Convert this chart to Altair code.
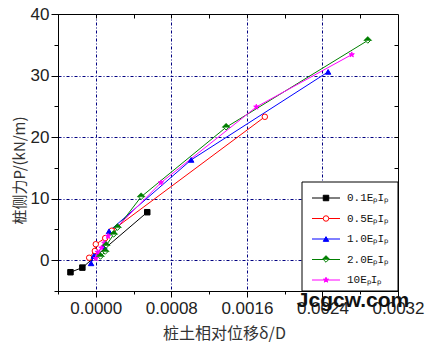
import altair as alt
import pandas as pd

# ---------------- data ----------------
series = ["0.1EₚIₚ", "0.5EₚIₚ", "1.0EₚIₚ", "2.0EₚIₚ", "10EₚIₚ"]

x_01 = [-0.000268, -0.000142, 0.000545]
y_01 = [-1.95, -1.2, 7.8]

x_05 = [-0.00007, -0.00001, 0.0, 0.0001, 0.00017, 0.00179]
y_05 = [0.4, 1.5, 2.6, 3.6, 4.8, 23.3]

x_10 = [-0.00005, -0.00002, 0.00009, 0.00014, 0.00101, 0.00246]
y_10 = [-0.5, 0.7, 2.3, 4.7, 16.3, 30.6]

x_20 = [0.00005, 0.0001, 0.00011, 0.00019, 0.00023, 0.00048, 0.00138, 0.00288]
y_20 = [0.6, 1.4, 2.4, 4.2, 5.3, 10.3, 21.6, 35.7]

x_100 = [0.0, 0.00002, 0.00006, 0.00009, 0.00013, 0.00069, 0.0017, 0.00271]
y_100 = [0.3, 1.3, 2.0, 2.8, 3.9, 12.6, 24.9, 33.4]

x_ticks = [0.0, 0.0008, 0.0016, 0.0024, 0.0032]
x_minor = [-0.0004, 0.0004, 0.0012, 0.0020, 0.0028]
x_grid = [0.0, 0.0008, 0.0016, 0.0024]
x_top = [-0.0004, 0.0, 0.0004, 0.0008, 0.0012, 0.0016, 0.0020, 0.0024, 0.0028]
y_ticks = [0, 10, 20, 30, 40]
y_minor = [-5, 5, 15, 25, 35]
y_grid = [0, 10, 20, 30]
y_right = [-5, 0, 5, 10, 15, 20, 25, 30, 35]

colors = ["#000000", "#FF0000", "#0000FF", "#007F00", "#FF00FF"]
fills = ["#000000", "#FFFFFF", "#0000FF", "#FFFFFF", "#FF00FF"]
STAR = ("M0,-1L0.2245,-0.309L0.951,-0.309L0.363,0.118L0.588,0.809L0,0.382"
        "L-0.588,0.809L-0.363,0.118L-0.951,-0.309L-0.2245,-0.309Z")
shapes = ["square", "circle", "triangle-up", "diamond", STAR]
sizes = [30, 30, 56, 64, 90]
HALF_TOP = "M-1,0L0,-1L1,0Z"

rows = []
for s, xs, ys in zip(series, [x_01, x_05, x_10, x_20, x_100],
                     [y_01, y_05, y_10, y_20, y_100]):
    for i, (a, b) in enumerate(zip(xs, ys)):
        rows.append({"series": s, "x": a, "y": b, "idx": i})
df = pd.DataFrame(rows)
leg_df = pd.DataFrame({"series": series, "row": list(range(len(series)))})
one = pd.DataFrame({"a": [0]})

W, H = 340, 277
LF = "Liberation Sans"
CJK = "Noto Sans CJK SC"

xsc = alt.Scale(domain=[-0.0004, 0.0032], nice=False, zero=False)
ysc = alt.Scale(domain=[-5, 40], nice=False, zero=False)
col_s = alt.Scale(domain=series, range=colors)
fill_s = alt.Scale(domain=series, range=fills)
shape_s = alt.Scale(domain=series, range=shapes)
size_s = alt.Scale(domain=series, range=sizes)

base = alt.Chart(df)

x_main = alt.X("x:Q", scale=xsc, axis=alt.Axis(
    orient="bottom", values=x_ticks, format=".4f", title="桩土相对位移δ/D",
    grid=False, tickSize=6, tickColor="black", domainColor="black",
    labelFont=LF, labelFontSize=17, labelColor="#222", labelPadding=3,
    labelFlush=False,
    titleFont=CJK, titleFontSize=16, titleFontWeight="normal", titleColor="#333",
    titleX=166, titleY=42, titleBaseline="middle", titleAlign="center"))
y_main = alt.Y("y:Q", scale=ysc, axis=alt.Axis(
    orient="left", values=y_ticks, title="桩侧力P/(kN/m)", grid=False,
    tickSize=7, tickColor="black", domainColor="black",
    labelFont=LF, labelFontSize=17, labelColor="#222", labelPadding=2,
    labelFlush=False,
    titleFont=CJK, titleFontSize=15, titleFontWeight="normal", titleColor="#333",
    titleX=-39, titleY=156, titleAngle=270, titleBaseline="middle",
    titleAlign="center"))

lines = base.mark_line(strokeWidth=1).encode(
    x=x_main, y=y_main, order=alt.Order("idx:Q"),
    stroke=alt.Stroke("series:N", scale=col_s, legend=None))

pt_enc = dict(
    shape=alt.Shape("series:N", scale=shape_s, legend=None),
    stroke=alt.Stroke("series:N", scale=col_s, legend=None),
    fill=alt.Fill("series:N", scale=fill_s, legend=None),
    size=alt.Size("series:N", scale=size_s, legend=None))

points = base.mark_point(opacity=1, strokeWidth=1).encode(
    x=alt.X("x:Q", scale=xsc, axis=None),
    y=alt.Y("y:Q", scale=ysc, axis=None), **pt_enc)

half = base.transform_filter(alt.datum.series == series[3]).mark_point(
    shape=HALF_TOP, filled=True, fill=colors[3], stroke=colors[3],
    strokeWidth=0.5, size=64, opacity=1).encode(
    x=alt.X("x:Q", scale=xsc, axis=None),
    y=alt.Y("y:Q", scale=ysc, axis=None))

gdash = [3, 2, 1, 2]
grid_layer = base.mark_point(opacity=0).encode(
    x=alt.X("x:Q", scale=xsc, axis=alt.Axis(
        orient="bottom", values=x_grid, grid=True, gridColor="#000080",
        gridDash=gdash, gridWidth=1, ticks=False, labels=False, domain=False,
        title=None)),
    y=alt.Y("y:Q", scale=ysc, axis=alt.Axis(
        orient="left", values=y_grid, grid=True, gridColor="#000080",
        gridDash=gdash, gridWidth=1, ticks=False, labels=False, domain=False,
        title=None)))

minor_layer = base.mark_point(opacity=0).encode(
    x=alt.X("x:Q", scale=xsc, axis=alt.Axis(
        orient="bottom", values=x_minor, grid=False, tickSize=3,
        tickColor="black", labels=False, domain=False, title=None)),
    y=alt.Y("y:Q", scale=ysc, axis=alt.Axis(
        orient="left", values=y_minor, grid=False, tickSize=4,
        tickColor="black", labels=False, domain=False, title=None)))

mirror_layer = base.mark_point(opacity=0).encode(
    x=alt.X("x:Q", scale=xsc, axis=alt.Axis(
        orient="top", values=x_top, grid=False, tickSize=4, offset=-4,
        tickColor="black", labels=False, domain=False, title=None)),
    y=alt.Y("y:Q", scale=ysc, axis=alt.Axis(
        orient="right", values=y_right, grid=False, tickSize=4, offset=-4,
        tickColor="black", labels=False, domain=False, title=None)))

main = alt.layer(grid_layer, minor_layer, mirror_layer, lines, points, half
                 ).resolve_axis(x="independent", y="independent")

# ---------------- legend ----------------
row_s = alt.Scale(domain=[0, 4], range=[184, 266])
ly = alt.Y("row:Q", scale=row_s, axis=None)
lbase = alt.Chart(leg_df)

box = alt.Chart(one).mark_rect(fill="white", stroke="black", strokeWidth=1).encode(
    x=alt.value(244), x2=alt.value(340), y=alt.value(168), y2=alt.value(277))
lrule = lbase.mark_rule(strokeWidth=1).encode(
    x=alt.value(254), x2=alt.value(282), y=ly,
    stroke=alt.Stroke("series:N", scale=col_s, legend=None))
lpts = lbase.mark_point(opacity=1, strokeWidth=1).encode(
    x=alt.value(268), y=ly, **pt_enc)
lhalf = lbase.transform_filter(alt.datum.series == series[3]).mark_point(
    shape=HALF_TOP, filled=True, fill=colors[3], stroke=colors[3],
    strokeWidth=0.5, size=64, opacity=1).encode(x=alt.value(268), y=ly)
ltext = lbase.mark_text(align="left", baseline="middle", font="Liberation Mono",
                        fontSize=11, color="#111").encode(
    x=alt.value(289), y=ly, text="series:N")
legend = alt.layer(box, lrule, lpts, lhalf, ltext)

mark_wm = alt.Chart(one).mark_text(
    text="Jcgcw.com", font=LF, fontSize=21, fontWeight="bold", color="#111",
    align="center", baseline="alphabetic").encode(
    x=alt.value(295), y=alt.value(293))

chart = alt.layer(main, legend, mark_wm).resolve_scale(y="independent").properties(
    width=W, height=H,
    autosize=alt.AutoSizeParams(type="none"),
    padding={"left": 58, "top": 14, "right": 30, "bottom": 52},
    background="white",
).configure_view(stroke="black", strokeWidth=1)

chart.save("out.html", embed_options={"renderer": "svg", "actions": False})
